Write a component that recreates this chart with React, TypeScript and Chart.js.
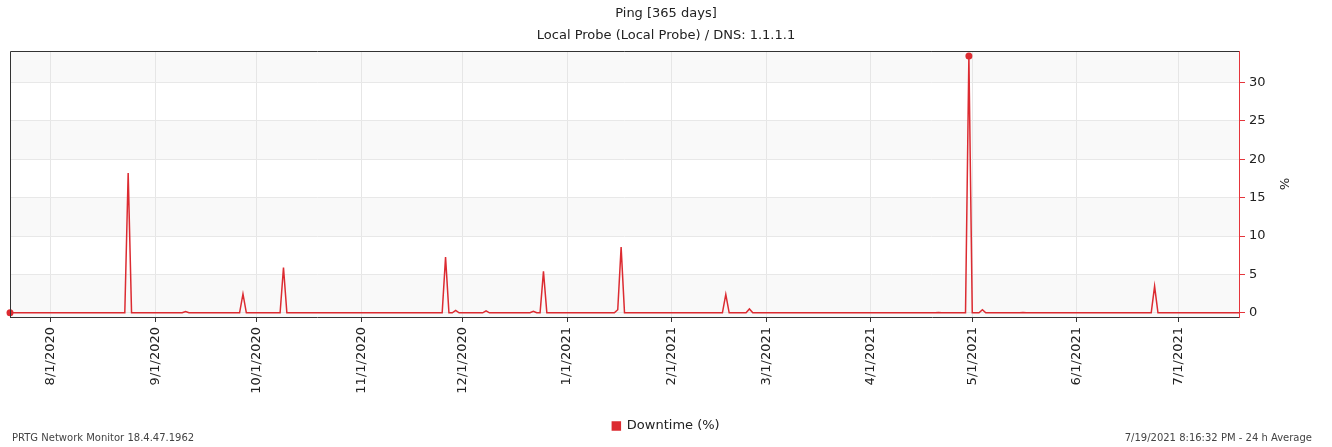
import { useEffect, useRef } from 'react';
import { Chart, registerables } from 'chart.js';

Chart.register(...registerables);

const TITLE = 'Ping [365 days]';
const SUBTITLE = 'Local Probe (Local Probe) / DNS: 1.1.1.1';
const SERIES_LABEL = 'Downtime (%)';
const Y_TITLE = '%';
const FOOTER_LEFT = 'PRTG Network Monitor 18.4.47.1962';
const FOOTER_RIGHT = '7/19/2021 8:16:32 PM - 24 h Average';

// first day of the series (year, month 1-12, day)
const START_DATE = [2020, 7, 20];

// daily 24 h average downtime (%), 7/20/2020 .. 7/19/2021
const downtime = [
  0, 0, 0, 0, 0, 0, 0, 0, 0, 0,
  0, 0, 0, 0, 0, 0, 0, 0, 0, 0,
  0, 0, 0, 0, 0, 0, 0, 0, 0, 0,
  0, 0, 0, 0, 0, 18.2, 0, 0, 0, 0,
  0, 0, 0, 0, 0, 0, 0, 0, 0, 0,
  0, 0, 0.15, 0, 0, 0, 0, 0, 0, 0,
  0, 0, 0, 0, 0, 0, 0, 0, 0, 2.45,
  0, 0, 0, 0, 0, 0, 0, 0, 0, 0,
  0, 5.9, 0, 0, 0, 0, 0, 0, 0, 0,
  0, 0, 0, 0, 0, 0, 0, 0, 0, 0,
  0, 0, 0, 0, 0, 0, 0, 0, 0, 0,
  0, 0, 0, 0, 0, 0, 0, 0, 0, 0,
  0, 0, 0, 0, 0, 0, 0, 0, 0, 7.25,
  0, 0, 0.3, 0, 0, 0, 0, 0, 0, 0,
  0, 0.25, 0, 0, 0, 0, 0, 0, 0, 0,
  0, 0, 0, 0, 0, 0.2, 0, 0, 5.4, 0,
  0, 0, 0, 0, 0, 0, 0, 0, 0, 0,
  0, 0, 0, 0, 0, 0, 0, 0, 0, 0,
  0.4, 8.55, 0, 0, 0, 0, 0, 0, 0, 0,
  0, 0, 0, 0, 0, 0, 0, 0, 0, 0,
  0, 0, 0, 0, 0, 0, 0, 0, 0, 0,
  0, 0, 2.4, 0, 0, 0, 0, 0, 0, 0.5,
  0, 0, 0, 0, 0, 0, 0, 0, 0, 0,
  0, 0, 0, 0, 0, 0, 0, 0, 0, 0,
  0, 0, 0, 0, 0, 0, 0, 0, 0, 0,
  0, 0, 0, 0, 0, 0, 0, 0, 0, 0,
  0, 0, 0, 0, 0, 0, 0, 0, 0, 0,
  0, 0, 0, 0, 0, 0.05, 0, 0, 0, 0,
  0, 0, 0, 0, 33.45, 0, 0, 0, 0.4, 0,
  0, 0, 0, 0, 0, 0, 0, 0, 0, 0,
  0.05, 0, 0, 0, 0, 0, 0, 0, 0, 0,
  0, 0, 0, 0, 0, 0, 0, 0, 0, 0,
  0, 0, 0, 0, 0, 0, 0, 0, 0, 0,
  0, 0, 0, 0, 0, 0, 0, 0, 0, 3.45,
  0, 0, 0, 0, 0, 0, 0, 0, 0, 0,
  0, 0, 0, 0, 0, 0, 0, 0, 0, 0,
  0, 0, 0, 0, 0,
];

const Y_MIN = -0.55;
const Y_MAX = 34.1;
const Y_STEP = 5;

const FONT = 'DejaVu Sans';
const RED = '#dc2b31';
const AXIS_RED = '#e5353b';

const dayLabels = downtime.map((_, i) => {
  const d = new Date(Date.UTC(START_DATE[0], START_DATE[1] - 1, START_DATE[2] + i));
  return `${d.getUTCMonth() + 1}/${d.getUTCDate()}/${d.getUTCFullYear()}`;
});

const isMonthStart = (i: number) => /^\d+\/1\//.test(dayLabels[i] || '');

const maxIndex = downtime.indexOf(Math.max(...downtime));
const minIndex = downtime.indexOf(Math.min(...downtime));

const bandsPlugin = {
  id: 'bands',
  beforeDraw(chart: any) {
    const { ctx, chartArea: a, scales } = chart;
    const y = scales.y;
    ctx.save();
    ctx.fillStyle = '#ffffff';
    ctx.fillRect(a.left, a.top, a.right - a.left, a.bottom - a.top);
    const inner = y.ticks.map((t: any) => t.value).filter((v: number) => v > 0 && v < y.max);
    const edges = [y.min, ...inner, y.max];
    for (let i = 0; i < edges.length - 1; i++) {
      if (i % 2 !== 0) continue;
      const p1 = y.getPixelForValue(edges[i]);
      const p2 = y.getPixelForValue(edges[i + 1]);
      ctx.fillStyle = '#f9f9f9';
      ctx.fillRect(a.left, Math.min(p1, p2), a.right - a.left, Math.abs(p1 - p2));
    }
    ctx.restore();
  },
};

const framePlugin = {
  id: 'frame',
  afterDatasetsDraw(chart: any) {
    const { ctx, chartArea: a } = chart;
    ctx.save();
    ctx.strokeStyle = '#333333';
    ctx.lineWidth = 1;
    ctx.beginPath();
    const top = Math.round(a.top) + 0.5;
    const left = Math.round(a.left) + 0.5;
    ctx.moveTo(left, Math.round(a.bottom));
    ctx.lineTo(left, top);
    ctx.lineTo(Math.round(a.right), top);
    ctx.stroke();
    ctx.restore();
  },
  afterDraw(chart: any) {
    const { ctx, width } = chart;
    ctx.save();
    ctx.font = `10px "${FONT}"`;
    ctx.fillStyle = '#444444';
    ctx.textBaseline = 'middle';
    ctx.textAlign = 'left';
    ctx.fillText(FOOTER_LEFT, 12, 438);
    ctx.textAlign = 'right';
    ctx.fillText(FOOTER_RIGHT, width - 20, 438);
    ctx.restore();
  },
};

export default function App() {
  const canvasRef = useRef<HTMLCanvasElement | null>(null);

  useEffect(() => {
    document.body.style.margin = '0';
    const canvas = canvasRef.current;
    if (!canvas) return;
    const chart = new Chart(canvas, {
      type: 'line',
      data: {
        labels: dayLabels,
        datasets: [
          {
            label: SERIES_LABEL,
            data: downtime,
            xAxisID: 'x',
            yAxisID: 'y',
            borderColor: RED,
            backgroundColor: RED,
            borderWidth: 1.5,
            tension: 0,
            fill: false,
            pointRadius: (ctx: any) => (ctx.dataIndex === maxIndex || ctx.dataIndex === minIndex ? 3.5 : 0),
            pointBackgroundColor: RED,
            pointBorderColor: RED,
            pointBorderWidth: 0,
          },
        ],
      },
      plugins: [bandsPlugin, framePlugin],
      options: {
        animation: false,
        responsive: true,
        maintainAspectRatio: false,
        events: [],
        layout: { padding: { left: 0, right: 0, top: 0, bottom: 4.5 } },
        plugins: {
          title: {
            display: true,
            text: TITLE,
            color: '#222222',
            font: { family: FONT, size: 13, weight: 'normal' },
            padding: { top: 6, bottom: 4 },
          },
          subtitle: {
            display: true,
            text: SUBTITLE,
            color: '#222222',
            font: { family: FONT, size: 13, weight: 'normal' },
            padding: { top: 2.2, bottom: 7.6 },
          },
          legend: {
            display: true,
            position: 'bottom',
            labels: {
              color: '#222222',
              font: { family: FONT, size: 13 },
              boxWidth: 8,
              boxHeight: 8,
              padding: 10,
            },
          },
          tooltip: { enabled: false },
        },
        scales: {
          x: {
            type: 'category',
            offset: false,
            afterBuildTicks: (scale: any) => {
              scale.ticks = scale.ticks.filter((t: any) => isMonthStart(t.value));
            },
            afterFit: (scale: any) => {
              scale.height = 92.5;
            },
            grid: {
              color: '#e6e6e6',
              lineWidth: 1,
              tickColor: '#333333',
              tickLength: 5,
              drawOnChartArea: true,
            },
            border: { color: '#333333', width: 1 },
            ticks: {
              autoSkip: false,
              minRotation: 90,
              maxRotation: 90,
              padding: 5,
              color: '#222222',
              font: { family: FONT, size: 13 },
            },
          },
          y: {
            type: 'linear',
            position: 'right',
            min: Y_MIN,
            max: Y_MAX,
            afterFit: (scale: any) => {
              scale.width = 93;
            },
            grid: {
              color: '#e8e8e8',
              lineWidth: 1,
              tickColor: AXIS_RED,
              tickLength: 6,
            },
            border: { color: AXIS_RED, width: 1 },
            ticks: {
              stepSize: Y_STEP,
              includeBounds: false,
              padding: 4,
              color: '#222222',
              font: { family: FONT, size: 13 },
            },
            title: {
              display: true,
              text: Y_TITLE,
              color: '#222222',
              font: { family: FONT, size: 13 },
              padding: { top: 41, bottom: 0 },
            },
          },
          yLeftSpace: {
            type: 'linear',
            position: 'left',
            afterFit: (scale: any) => {
              scale.width = 10;
            },
            grid: { display: false, drawTicks: false },
            border: { display: false },
            ticks: { display: false },
          },
        },
      },
    } as any);
    return () => chart.destroy();
  }, []);

  return (
    <div style={{ position: 'absolute', left: 0, top: 0, width: 1332, height: 447 }}>
      <canvas ref={canvasRef} />
    </div>
  );
}
